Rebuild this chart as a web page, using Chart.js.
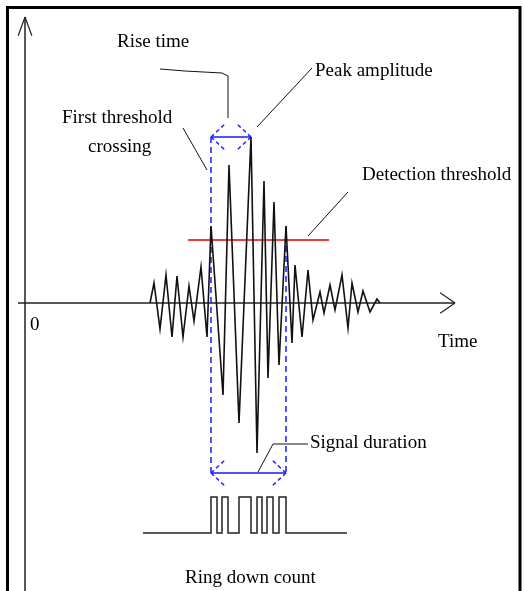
<!DOCTYPE html>
<html>
<head>
<meta charset="utf-8">
<script src="https://cdn.jsdelivr.net/npm/chart.js@4.4.1/dist/chart.umd.min.js"></script>
<style>
    body { margin: 0; background: #fff; }
    #wrap { width: 524px; height: 591px; position: relative; }
</style>
</head>
<body>
<div id="wrap"><canvas id="aeChart"></canvas></div>
<script>
// acoustic emission burst: time from origin, amplitude above the time axis
const signalTime = [125, 129, 135, 141, 147, 152, 158, 164, 169, 176, 182, 186, 198, 204, 214, 226, 232, 239, 243, 249, 254, 261, 267, 270, 277, 283, 288, 295, 299, 305, 310, 317, 323, 327, 333, 338, 345, 352, 355];
const signalAmp  = [0, 20, -26, 28, -34, 27, -34, 17, -18, 36, -34, 77, -92, 138, -120, 166, -150, 122, -75, 101, -62, 77, -40, 38, -34, 33, -17, 11, -10, 18, -7, 28, -25, 20, -9, 12, -9, 4, 0];

const thresholdAmp = 63;
const thresholdSpan = [163, 304];

const crossingTimes = [186, 261];   // first and last threshold crossing
const peakTime = 226;
const peakAmp = 166;
const durationAmp = -170;

// ring down count pulses (start, end)
const pulseEdges = [[186, 192], [197, 203], [214, 226], [232, 237], [242, 248], [254, 261]];
const countSpan = [118, 322];
const countLow = -230;
const countHigh = -194;

const axisTop = 286;
const axisEnd = 430;

const labels = [
    { text: "Rise time", t: 92, a: 261 },
    { text: "Peak amplitude", t: 290, a: 232 },
    { text: "First threshold", t: 37, a: 185 },
    { text: "crossing", t: 63, a: 156 },
    { text: "Detection threshold", t: 337, a: 128 },
    { text: "Time", t: 413, a: -39 },
    { text: "0", t: 5, a: -22 },
    { text: "Signal duration", t: 285, a: -140 },
    { text: "Ring down count", t: 160, a: -275 },
];

const leaders = [
    [[135, 234], [160, 232], [197, 230], [203, 227], [203, 185]],
    [[232, 176], [287, 235]],
    [[158, 175], [182, 133]],
    [[283, 67], [323, 111]],
    [[233, -169], [248, -141], [283, -141]],
];

function pts(ts, as) { return ts.map((t, i) => ({ x: t, y: as[i] })); }

const countPts = [{ x: countSpan[0], y: countLow }];
pulseEdges.forEach(([s, e]) => {
    countPts.push({ x: s, y: countLow }, { x: s, y: countHigh }, { x: e, y: countHigh }, { x: e, y: countLow });
});
countPts.push({ x: countSpan[1], y: countLow });

const BLUE = "#1a1aff";

function head(ctx, x, y, dx, dy, len, ang) {
    const base = Math.atan2(-dy, -dx);
    [base + ang, base - ang].forEach(a => {
        ctx.beginPath();
        ctx.moveTo(x, y);
        ctx.lineTo(x + Math.cos(a) * len, y + Math.sin(a) * len);
        ctx.stroke();
    });
}

const decorPlugin = {
    id: "decor",
    beforeDatasetsDraw(chart) {
        const { ctx, scales: { x, y } } = chart;
        ctx.save();
        // frame
        ctx.strokeStyle = "#000";
        ctx.lineWidth = 3;
        ctx.beginPath();
        ctx.moveTo(7.5, chart.height);
        ctx.lineTo(7.5, 7.5);
        ctx.lineTo(520, 7.5);
        ctx.lineTo(520, chart.height);
        ctx.stroke();

        // axes
        ctx.lineWidth = 1.5;
        ctx.strokeStyle = "#222";
        const x0 = x.getPixelForValue(0), y0 = y.getPixelForValue(0);
        const yt = y.getPixelForValue(axisTop), xe = x.getPixelForValue(axisEnd);
        ctx.beginPath();
        ctx.moveTo(x0, chart.height);
        ctx.lineTo(x0, yt);
        ctx.moveTo(x0 - 7, y0);
        ctx.lineTo(xe, y0);
        ctx.stroke();
        ctx.lineWidth = 1.2;
        head(ctx, x0, yt, 0, -1, 20, 0.35);
        head(ctx, xe, y0, 1, 0, 18, 0.6);
        ctx.restore();
    },
    afterDatasetsDraw(chart) {
        const { ctx, scales: { x, y } } = chart;
        ctx.save();
        const px = t => x.getPixelForValue(t), py = a => y.getPixelForValue(a);

        // blue arrows
        ctx.strokeStyle = BLUE;
        ctx.lineWidth = 1.5;
        const xa = px(crossingTimes[0]), xb = px(crossingTimes[1]), xp = px(peakTime);
        const yTop = py(peakAmp), yBot = py(durationAmp);
        ctx.beginPath();
        ctx.moveTo(xa, yTop); ctx.lineTo(xp, yTop);
        ctx.moveTo(xa, yBot); ctx.lineTo(xb, yBot);
        ctx.stroke();
        ctx.setLineDash([4, 3]);
        head(ctx, xa, yTop, -1, 0, 18, 0.75);
        head(ctx, xp, yTop, 1, 0, 18, 0.75);
        head(ctx, xa, yBot, -1, 0, 18, 0.75);
        head(ctx, xb, yBot, 1, 0, 18, 0.75);
        ctx.setLineDash([]);

        // leader lines
        ctx.strokeStyle = "#111";
        ctx.lineWidth = 1;
        leaders.forEach(l => {
            ctx.beginPath();
            l.forEach(([t, a], i) => i ? ctx.lineTo(px(t), py(a)) : ctx.moveTo(px(t), py(a)));
            ctx.stroke();
        });

        // texts
        ctx.fillStyle = "#000";
        ctx.font = "19px 'Liberation Serif', 'DejaVu Serif', serif";
        ctx.textBaseline = "middle";
        ctx.textAlign = "left";
        labels.forEach(l => ctx.fillText(l.text, px(l.t), py(l.a)));
        ctx.restore();
    }
};

new Chart(document.getElementById("aeChart"), {
    type: "scatter",
    data: {
        datasets: [
            {
                label: "Signal",
                data: pts(signalTime, signalAmp),
                showLine: true,
                borderColor: "#111",
                borderWidth: 1.6,
                pointRadius: 0,
                tension: 0,
            },
            {
                label: "Detection threshold",
                data: [{ x: thresholdSpan[0], y: thresholdAmp }, { x: thresholdSpan[1], y: thresholdAmp }],
                showLine: true,
                borderColor: "#e00000",
                borderWidth: 1.6,
                pointRadius: 0,
            },
            {
                label: "Crossing lines",
                data: [
                    { x: crossingTimes[0], y: peakAmp }, { x: crossingTimes[0], y: durationAmp },
                    { x: NaN, y: NaN },
                    { x: crossingTimes[1], y: thresholdAmp + 14 }, { x: crossingTimes[1], y: durationAmp },
                ],
                showLine: true,
                spanGaps: false,
                borderColor: BLUE,
                borderDash: [6, 4],
                borderWidth: 1.5,
                pointRadius: 0,
            },
            {
                label: "Ring down count",
                data: countPts,
                showLine: true,
                borderColor: "#222",
                borderWidth: 1.5,
                pointRadius: 0,
            },
        ],
    },
    options: {
        responsive: true,
        maintainAspectRatio: false,
        animation: false,
        layout: { padding: 0 },
        plugins: { legend: { display: false }, tooltip: { enabled: false } },
        scales: {
            x: { type: "linear", min: -25, max: 499, display: false },
            y: { type: "linear", min: -288, max: 303, display: false },
        },
    },
    plugins: [decorPlugin],
});
</script>
</body>
</html>
